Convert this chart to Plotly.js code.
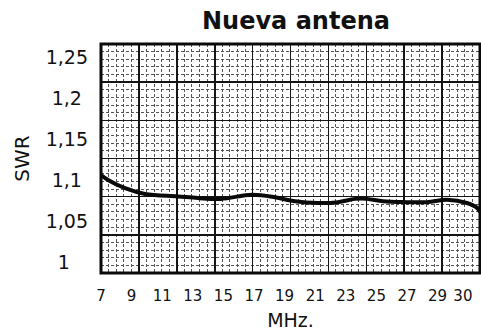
<!DOCTYPE html>
<html>
<head>
<meta charset="utf-8">
<script src="https://cdn.plot.ly/plotly-3.0.1.min.js"></script>
<style>html,body{margin:0;padding:0;background:#fff;}#chart{width:481px;height:331px;}</style>
</head>
<body>
<div id="chart"></div>
<script>
// Frequency in MHz
const freqMHz = [7.0, 7.46, 8.57, 9.88, 12.03, 13.34, 14.84, 16.87, 18.37, 19.68, 21.18, 22.49, 23.6, 24.39, 25.43, 27.0, 28.31, 29.61, 30.92, 31.58, 31.77];
// Standing wave ratio
const swr = [1.106, 1.100, 1.090, 1.083, 1.080, 1.078, 1.077, 1.082, 1.079, 1.074, 1.072, 1.073, 1.077, 1.077, 1.074, 1.073, 1.073, 1.076, 1.072, 1.066, 1.061];

const xTickVals = [7, 9, 11, 13, 15, 17, 19, 21, 23, 25, 27, 29];
const xTickText = ['7', '9', '11', '13', '15', '17', '19', '21', '23', '25', '27', '29'];
const xLastTickVal = [30];
const xLastTickText = ['30'];
const yTickVals = [1, 1.05, 1.1, 1.15, 1.2, 1.25];
const yTickText = ['1\u00a0\u00a0\u00a0', '1,05', '1,1\u00a0', '1,15', '1,2\u00a0', '1,25'];

const FONT = 'DejaVu Sans, Arial, sans-serif';
const X_RANGE = [7, 31.77];

const traces = [
  // invisible carrier so the graph-paper subplot is drawn
  {x: [0, 10], y: [0, 6], type: 'scatter', mode: 'markers', marker: {opacity: 0},
   hoverinfo: 'skip', showlegend: false},
  {
    x: freqMHz, y: swr, xaxis: 'x2', yaxis: 'y2',
    type: 'scatter', mode: 'lines',
    line: {color: '#0a0a0a', width: 4, shape: 'spline', smoothing: 1.0},
    hoverinfo: 'skip', showlegend: false
  },
  // invisible carrier for the last frequency label axis
  {x: xLastTickVal, y: [yTickVals[0]], xaxis: 'x3', yaxis: 'y2', type: 'scatter', mode: 'markers',
   marker: {opacity: 0}, hoverinfo: 'skip', showlegend: false}
];

const tickFont = {family: FONT, size: 15, color: '#111'};

const layout = {
  width: 481, height: 331,
  margin: {l: 101, r: 1, t: 44, b: 58},
  paper_bgcolor: '#ffffff', plot_bgcolor: '#ffffff',
  showlegend: false,
  font: {family: FONT, color: '#111'},
  title: {
    text: '<b>Nueva antena</b>',
    font: {family: FONT, size: 24, color: '#111'},
    x: 296/481, xanchor: 'center', xref: 'container',
    y: 1 - 21/331, yanchor: 'middle', yref: 'container'
  },
  // graph-paper grid axes
  xaxis: {
    range: [0, 10], dtick: 1, tick0: 0, showticklabels: false, ticks: '',
    showgrid: true, gridcolor: '#151515', gridwidth: 1.6, zeroline: false,
    minor: {dtick: 0.2, showgrid: true, gridcolor: '#555', gridwidth: 1, griddash: '3px,2px'},
    fixedrange: true
  },
  yaxis: {
    range: [0, 6], dtick: 1, tick0: 0, showticklabels: false, ticks: '',
    showgrid: true, gridcolor: '#151515', gridwidth: 1.6, zeroline: false,
    minor: {dtick: 0.2, showgrid: true, gridcolor: '#555', gridwidth: 1, griddash: '3px,2px'},
    fixedrange: true
  },
  // data axes
  xaxis2: {
    overlaying: 'x', anchor: 'y2', side: 'bottom',
    range: X_RANGE, tickmode: 'array', tickvals: xTickVals, ticktext: xTickText,
    tickangle: 0,
    showgrid: false, zeroline: false, ticks: '', ticklabelstandoff: 12,
    tickfont: tickFont,
    title: {text: 'MHz.', font: {family: FONT, size: 19, color: '#111'}, standoff: 11}
  },
  xaxis3: {
    overlaying: 'x', anchor: 'y2', side: 'bottom',
    range: X_RANGE, tickmode: 'array', tickvals: xLastTickVal, ticktext: xLastTickText,
    tickangle: 0, ticklabelshift: 10,
    showgrid: false, zeroline: false, ticks: '', ticklabelstandoff: 12,
    tickfont: tickFont
  },
  yaxis2: {
    overlaying: 'y', anchor: 'x2', side: 'left',
    range: [0.9866, 1.2659], tickmode: 'array', tickvals: yTickVals, ticktext: yTickText,
    showgrid: false, zeroline: false, ticks: '', ticklabelstandoff: 12,
    tickfont: {family: FONT, size: 19, color: '#111'},
    title: {text: 'SWR', font: {family: FONT, size: 20, color: '#111'}, standoff: 10}
  },
  shapes: [
    {type: 'rect', xref: 'paper', yref: 'paper', x0: 0, x1: 1, y0: 0, y1: 1,
     line: {color: '#0a0a0a', width: 3}, fillcolor: 'rgba(0,0,0,0)', layer: 'above'}
  ]
};

Plotly.newPlot('chart', traces, layout, {staticPlot: true, displayModeBar: false});
</script>
</body>
</html>
